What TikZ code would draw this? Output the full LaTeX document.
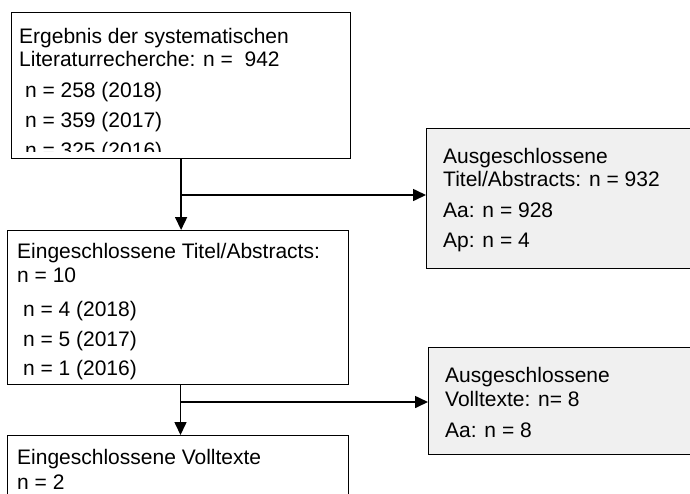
\documentclass[tikz,border=0pt]{standalone}
\usepackage{fontspec}
\setmainfont{Liberation Sans}
\usetikzlibrary{arrows.meta}
\definecolor{boxgray}{HTML}{F0F0F0}
\tikzset{
  box/.style={draw, line width=1.2pt, anchor=north west, inner sep=0pt},
  excl/.style={box, fill=boxgray},
  line/.style={anchor=base west, inner sep=0pt, font=\fontsize{21}{25}\selectfont},
  arr/.style={line width=1.6pt, -{Triangle[length=13pt,width=12pt]}},
}
\begin{document}
\begin{tikzpicture}[x=1pt,y=-1pt]
      \useasboundingbox (0,0) rectangle (690,493);
      % boxes
      \node[box, minimum width=339pt, minimum height=146pt] (res) at (11,12) {};
      \node[excl, minimum width=280pt, minimum height=140pt] (excl1) at (426,128) {};
      \node[box, minimum width=341pt, minimum height=154pt] (incl1) at (7,230) {};
      \node[excl, minimum width=280pt, minimum height=107pt] (excl2) at (428,347) {};
      \node[box, minimum width=341pt, minimum height=90pt] (incl2) at (7,435) {};
      % texts
      \begin{scope}
        \clip (11,12) rectangle (350,151);
        \node[line] (res1) at (19,43) {Ergebnis der systematischen};
        \node[line] (res2) at (19,66) {Literaturrecherche: n = \ 942};
        \node[line] (res3) at (19,97) {\ n = 258 (2018)};
        \node[line] (res4) at (19,127) {\ n = 359 (2017)};
        \node[line] (res5) at (19,157) {\ n = 325 (2016)};
      \end{scope}
      \node[line] (excl11) at (443,163) {Ausgeschlossene};
      \node[line] (excl12) at (443,186) {Titel/Abstracts: n = 932};
      \node[line] (excl13) at (443,217) {Aa: n = 928};
      \node[line] (excl14) at (443,247) {Ap: n = 4};
      \node[line] (incl11) at (17,258) {Eingeschlossene Titel/Abstracts:};
      \node[line] (incl12) at (17,282) {n = 10};
      \node[line] (incl13) at (17,316) {\ n = 4 (2018)};
      \node[line] (incl14) at (17,346) {\ n = 5 (2017)};
      \node[line] (incl15) at (17,375) {\ n = 1 (2016)};
      \node[line] (excl21) at (445,382) {Ausgeschlossene};
      \node[line] (excl22) at (445,406) {Volltexte: n= 8};
      \node[line] (excl23) at (445,437) {Aa: n = 8};
      \node[line] (incl21) at (17,464) {Eingeschlossene Volltexte};
      \node[line] (incl22) at (17,489) {n = 2};
      % arrows
      \coordinate (b1) at (180.5,195);
      \coordinate (b2) at (180.5,402);
      \draw[arr] (res.south) -- (res.south |- incl1.north);
      \draw[arr] (b1) -- (b1 -| excl1.west);
      \draw[arr] (incl1.south -| b1) -- (incl2.north -| b1);
      \draw[arr] (b2) -- (b2 -| excl2.west);
\end{tikzpicture}
\end{document}
